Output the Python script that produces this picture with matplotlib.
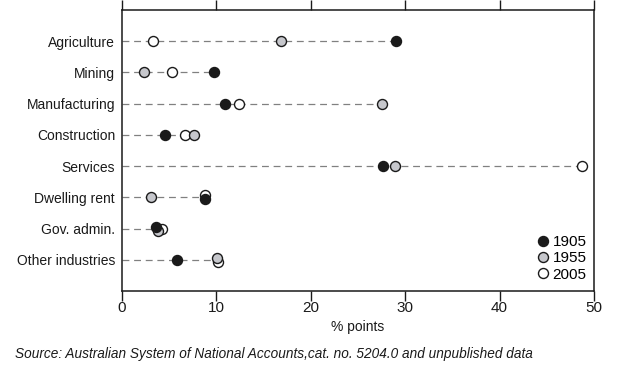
import matplotlib
matplotlib.use("Agg")
import matplotlib.pyplot as plt
from matplotlib.lines import Line2D

plt.rcParams['font.family'] = ['Liberation Sans', 'DejaVu Sans']

categories = ["Agriculture", "Mining", "Manufacturing", "Construction",
              "Services", "Dwelling rent", "Gov. admin.", "Other industries"]
v1905 = [29.0, 9.7, 10.9, 4.6, 27.6, 8.75, 3.6, 5.8]
v1955 = [16.8, 2.3, 27.5, 7.6, 28.9, 3.1, 3.8, 10.1]
v2005 = [3.3, 5.3, 12.4, 6.7, 48.7, 8.75, 4.2, 10.2]
years = ["1905", "1955", "2005"]
xticks = [0, 10, 20, 30, 40, 50]

# small vertical nudges (style only) so overlapping markers stay visible
nudge1905 = [0, 0, 0, 0, 0, 0.06, -0.05, 0]
nudge1955 = [0, 0, 0, 0, 0, 0, 0.07, -0.06]
nudge2005 = [0, 0, 0, 0, 0, -0.07, 0, 0.06]

fig = plt.figure(figsize=(6.23, 3.82), dpi=100)
ax = fig.add_axes([0.1958, 0.2382, 0.7577, 0.7356])

ypos = list(range(len(categories)))
for y, a, b, c in zip(ypos, v1905, v1955, v2005):
    ax.plot([0, max(a, b, c)], [y, y], ls=(0, (5.5, 3.8)), color='#808080',
            lw=0.9, zorder=1)

ms = 7.2
mew = 1.0
ax.plot(v2005, [y + d for y, d in zip(ypos, nudge2005)], 'o', ls='none', ms=ms,
        mfc='white', mec='#1a1a1a', mew=mew, zorder=3)
ax.plot(v1955, [y + d for y, d in zip(ypos, nudge1955)], 'o', ls='none', ms=ms,
        mfc='#c6c7cc', mec='#1a1a1a', mew=mew, zorder=4)
ax.plot(v1905, [y + d for y, d in zip(ypos, nudge1905)], 'o', ls='none', ms=ms,
        mfc='#1a1a1a', mec='#1a1a1a', mew=mew, zorder=5)

ax.set_xlim(0, 50)
ax.set_ylim(len(categories), -1)
ax.set_yticks(ypos)
ax.set_yticklabels(categories, fontsize=10, color='#1a1a1a')
ax.set_xticks(xticks)
ax.set_xticklabels([str(t) for t in xticks], fontsize=11, color='#1a1a1a')
ax.tick_params(axis='y', length=0, pad=5)
ax.tick_params(axis='x', direction='out', length=7, width=1, top=True, pad=0.5,
               color='#1a1a1a')
for s in ax.spines.values():
    s.set_linewidth(1.1)
    s.set_color('#1a1a1a')
ax.set_xlabel("% points", fontsize=10, labelpad=3, color='#1a1a1a')

handles = [
    Line2D([], [], marker='o', ls='none', ms=ms, mfc='#1a1a1a', mec='#1a1a1a', mew=mew),
    Line2D([], [], marker='o', ls='none', ms=ms, mfc='#c6c7cc', mec='#1a1a1a', mew=mew),
    Line2D([], [], marker='o', ls='none', ms=ms, mfc='white', mec='#1a1a1a', mew=mew),
]
ax.legend(handles, years, loc='lower right', frameon=False, fontsize=11,
          handletextpad=0.0, labelspacing=0.15, borderaxespad=0.0,
          handlelength=1.3, bbox_to_anchor=(0.997, 0.012))

fig.text(0.024, 0.063, "Source: Australian System of National Accounts,cat. no. 5204.0 and unpublished data",
         fontsize=9.8, style='italic', color='#1a1a1a')

fig.savefig("out.png", dpi=100)
